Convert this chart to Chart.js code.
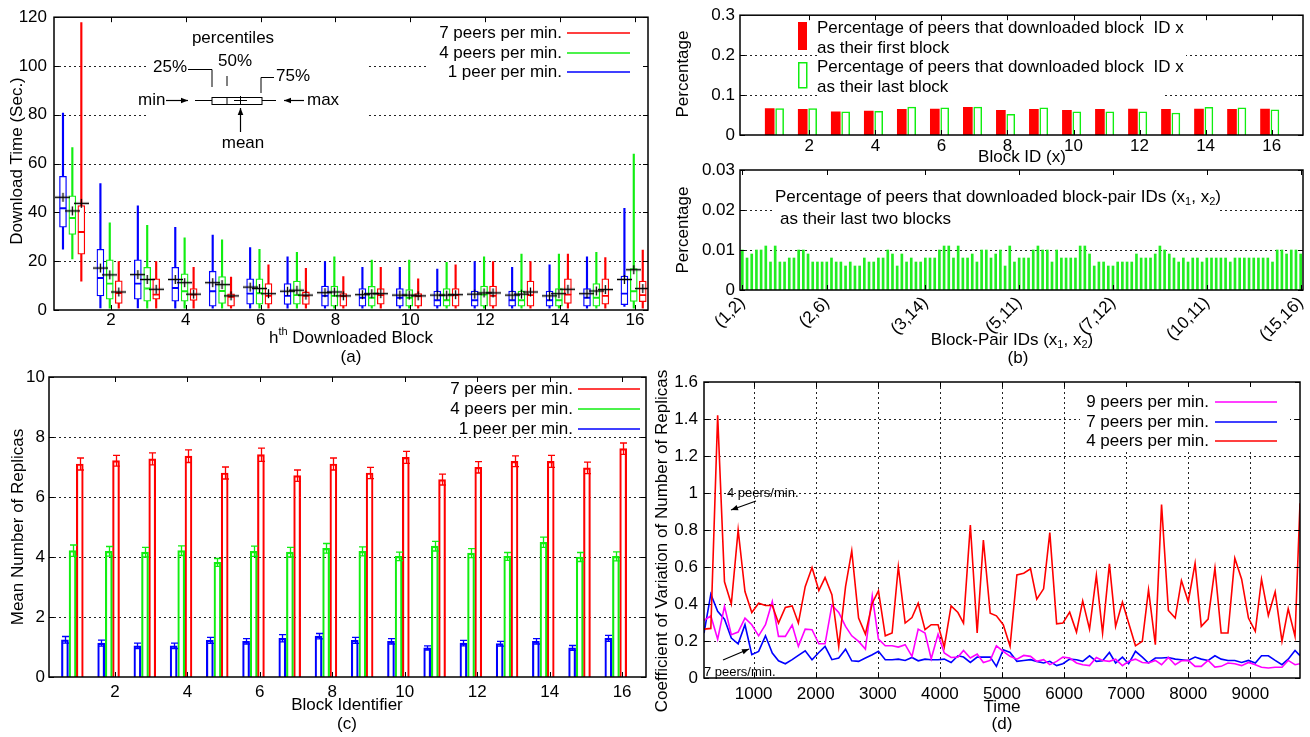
<!DOCTYPE html>
<html>
<head>
<meta charset="utf-8">
<title>Download and replica statistics</title>
<script src="https://cdn.jsdelivr.net/npm/chart.js"></script>
<style>
html, body { margin:0; padding:0; background:#fff; width:1310px; height:737px; overflow:hidden; position:relative; }
canvas { position:absolute; }
</style>
</head>
<body>
<canvas id="chartA"></canvas>
<canvas id="chartB1"></canvas>
<canvas id="chartB2"></canvas>
<canvas id="chartC"></canvas>
<canvas id="chartD"></canvas>
<script>
// ================= DATA =================
const blocks = [1,2,3,4,5,6,7,8,9,10,11,12,13,14,15,16];
const blockTicks = [2,4,6,8,10,12,14,16];

// (a) download time box plots
const dlTicks = [0,20,40,60,80,100,120];
const blueMin  = [24.9,0.9,0.9,0.7,0.7,0.7,0.7,0.7,0.7,0.7,0.7,0.7,0.7,0.7,0.7,1.5];
const blueQ1   = [33.9,5.8,4.4,3.6,1.6,2.4,2.3,1.6,1.6,1.6,1.6,1.6,1.6,1.6,1.6,2.2];
const blueMed  = [41.7,13.1,10.8,9.0,7.7,6.7,5.8,5.8,5.0,5.0,4.0,4.0,4.0,4.0,5.0,6.7];
const blueQ3   = [54.8,24.9,20.6,17.5,15.9,12.8,10.8,9.8,8.8,8.8,7.8,7.8,7.8,7.8,8.8,13.9];
const blueMax  = [80.7,51.8,42.7,33.9,30.7,25.6,21.8,19.8,17.5,17.5,16.8,19.8,17.5,18.5,21.8,41.7];
const blueMean = [46.2,17.2,14.5,12.5,11.2,9.4,7.7,7.1,6.3,6.1,6.1,6.5,6.1,5.8,6.7,12.5];

const greenMin  = [20.9,0.7,0.7,0.7,0.7,0.7,0.7,0.7,0.7,0.7,0.7,0.7,0.7,0.7,0.7,0.7];
const greenQ1   = [31.0,4.4,3.6,3.6,2.7,2.4,2.4,1.6,1.6,1.6,1.6,1.6,1.6,1.6,1.6,3.5];
const greenMed  = [37.7,10.8,8.8,7.7,7.8,6.9,6.1,5.8,5.0,5.0,4.0,6.3,4.0,4.0,5.0,7.7];
const greenQ3   = [46.8,20.6,17.5,14.8,13.7,12.8,11.9,9.8,9.7,8.4,8.8,9.8,7.8,8.8,10.8,17.0];
const greenMax  = [66.6,35.7,34.7,29.6,28.8,24.9,23.6,21.8,20.5,20.5,19.5,21.8,22.9,22.9,23.6,63.9];
const greenMean = [40.6,14.4,12.5,11.2,10.4,8.8,8.1,7.4,6.7,6.1,6.1,7.0,6.5,6.7,7.8,16.5];

const redMin  = [11.8,0.7,0.7,0.7,0.7,0.7,0.7,0.7,0.7,0.7,0.7,0.7,0.7,0.7,0.7,0.7];
const redQ1   = [22.9,2.7,4.4,3.9,1.6,2.4,2.3,1.6,2.4,1.6,1.6,1.6,1.6,2.7,2.4,3.4];
const redMed  = [32.0,7.0,6.3,6.3,5.4,5.8,5.8,5.7,6.1,5.7,6.1,5.8,6.1,6.3,5.8,6.1];
const redQ3   = [42.8,12.0,12.8,8.8,6.6,10.8,7.4,6.7,8.8,6.7,8.8,9.8,11.9,12.8,12.8,11.9];
const redMax  = [117.8,19.8,19.8,17.5,13.5,18.5,17.1,13.7,17.5,12.8,18.5,19.8,19.8,22.9,21.5,24.6];
const redMean = [43.7,7.4,8.5,6.5,5.8,6.7,6.1,5.8,6.7,5.8,6.3,7.0,7.4,8.5,8.4,8.8];

// (b) top: first / last block percentages
const pctTicks = [0,0.1,0.2,0.3];
const firstPct = [0.066,0.064,0.058,0.060,0.064,0.065,0.069,0.062,0.064,0.062,0.064,0.065,0.064,0.065,0.064,0.065];
const lastPct  = [0.066,0.066,0.058,0.059,0.070,0.068,0.070,0.052,0.068,0.058,0.058,0.058,0.055,0.069,0.068,0.063];

// (b) bottom: block-pair percentages
const pairLabels = [
"(1,2)","(1,3)","(1,4)","(1,5)","(1,6)","(1,7)","(1,8)","(1,9)","(1,10)","(1,11)","(1,12)","(1,13)","(1,14)","(1,15)","(1,16)",
"(2,3)","(2,4)","(2,5)","(2,6)","(2,7)","(2,8)","(2,9)","(2,10)","(2,11)","(2,12)","(2,13)","(2,14)","(2,15)","(2,16)",
"(3,4)","(3,5)","(3,6)","(3,7)","(3,8)","(3,9)","(3,10)","(3,11)","(3,12)","(3,13)","(3,14)","(3,15)","(3,16)",
"(4,5)","(4,6)","(4,7)","(4,8)","(4,9)","(4,10)","(4,11)","(4,12)","(4,13)","(4,14)","(4,15)","(4,16)",
"(5,6)","(5,7)","(5,8)","(5,9)","(5,10)","(5,11)","(5,12)","(5,13)","(5,14)","(5,15)","(5,16)",
"(6,7)","(6,8)","(6,9)","(6,10)","(6,11)","(6,12)","(6,13)","(6,14)","(6,15)","(6,16)",
"(7,8)","(7,9)","(7,10)","(7,11)","(7,12)","(7,13)","(7,14)","(7,15)","(7,16)",
"(8,9)","(8,10)","(8,11)","(8,12)","(8,13)","(8,14)","(8,15)","(8,16)",
"(9,10)","(9,11)","(9,12)","(9,13)","(9,14)","(9,15)","(9,16)",
"(10,11)","(10,12)","(10,13)","(10,14)","(10,15)","(10,16)",
"(11,12)","(11,13)","(11,14)","(11,15)","(11,16)",
"(12,13)","(12,14)","(12,15)","(12,16)",
"(13,14)","(13,15)","(13,16)",
"(14,15)","(14,16)",
"(15,16)"];
const pairTickLabels = ["(1,2)","(2,6)","(3,14)","(5,11)","(7,12)","(10,11)","(15,16)"];
const pairPctTicks = [0,0.01,0.02,0.03];
const pairPct = [
0.010,0.008,0.009,0.010,0.010,0.011,0.007,0.011,0.007,0.007,
0.008,0.008,0.010,0.010,0.009,0.007,0.007,0.007,0.007,0.008,
0.007,0.007,0.006,0.007,0.006,0.006,0.008,0.007,0.007,0.008,
0.008,0.010,0.009,0.006,0.009,0.007,0.008,0.007,0.007,0.008,
0.008,0.008,0.010,0.011,0.011,0.008,0.011,0.008,0.008,0.009,
0.007,0.010,0.010,0.008,0.009,0.010,0.006,0.011,0.007,0.008,
0.008,0.008,0.010,0.011,0.010,0.010,0.007,0.010,0.008,0.008,
0.008,0.008,0.011,0.011,0.009,0.006,0.007,0.007,0.006,0.006,
0.007,0.007,0.007,0.007,0.009,0.008,0.008,0.008,0.009,0.011,
0.010,0.009,0.008,0.007,0.008,0.007,0.008,0.008,0.007,0.008,
0.008,0.008,0.008,0.008,0.007,0.008,0.008,0.008,0.008,0.008,
0.008,0.008,0.008,0.007,0.010,0.010,0.009,0.010,0.010,0.009];

// (c) mean number of replicas
const replicaTicks = [0,2,4,6,8,10];
const replicas7 = [7.10,7.21,7.27,7.36,6.80,7.41,6.71,7.10,6.80,7.32,6.58,6.99,7.19,7.19,6.97,7.61];
const replicas4 = [4.21,4.19,4.16,4.21,3.82,4.19,4.16,4.29,4.19,4.02,4.36,4.13,4.02,4.49,4.00,4.02];
const replicas1 = [1.24,1.13,1.04,1.04,1.22,1.19,1.29,1.36,1.22,1.19,0.97,1.13,1.11,1.19,0.97,1.29];
const err7 = [0.20,0.18,0.20,0.21,0.20,0.22,0.19,0.20,0.19,0.20,0.18,0.19,0.18,0.20,0.19,0.19];
const err4 = [0.19,0.16,0.16,0.16,0.13,0.17,0.16,0.16,0.15,0.14,0.16,0.15,0.13,0.17,0.15,0.15];
const err1 = [0.11,0.10,0.09,0.09,0.10,0.09,0.12,0.09,0.10,0.09,0.07,0.09,0.08,0.09,0.08,0.10];

// (d) coefficient of variation over time
const timeTicks = [1000,2000,3000,4000,5000,6000,7000,8000,9000];
const cvTicks = [0,0.2,0.4,0.6,0.8,1,1.2,1.4,1.6];
const times = [200,310,420,530,640,750,860,970,1080,1190,1300,1400,1510,1620,1720,1830,1940,2050,2150,2260,
2370,2480,2580,2690,2800,2910,3010,3120,3230,3330,3440,3550,3650,3760,3860,3970,4070,4180,4290,4380,4490,4600,
4700,4810,4910,5020,5130,5240,5350,5460,5560,5670,5770,5880,5980,6090,6200,6300,6410,6520,6620,6730,
6830,6940,7040,7150,7260,7360,7470,7570,7680,7790,7890,8000,8110,8210,8320,8430,8530,8640,8750,8860,
8970,9080,9180,9290,9400,9510,9610,9720,9800];
const cv4 = [0.264,0.268,1.42,0.52,0.40,0.80,0.467,0.354,0.404,0.392,0.392,0.297,0.381,0.39,0.297,0.494,0.597,0.473,0.543,0.45,
0.171,0.494,0.687,0.324,0.237,0.404,0.471,0.228,0.243,0.602,0.297,0.327,0.404,0.261,0.288,0.288,0.167,0.39,0.354,0.297,0.827,0.243,
0.746,0.35,0.336,0.288,0.171,0.557,0.566,0.59,0.426,0.482,0.786,0.293,0.297,0.356,0.248,0.417,0.264,0.555,0.243,0.617,
0.279,0.41,0.297,0.174,0.198,0.476,0.18,0.938,0.365,0.324,0.527,0.413,0.62,0.279,0.318,0.593,0.243,0.243,0.647,0.534,
0.324,0.252,0.534,0.338,0.466,0.198,0.374,0.225,0.944];
const cv7 = [0.243,0.453,0.36,0.318,0.216,0.185,0.288,0.126,0.144,0.228,0.135,0.093,0.077,0.099,0.122,0.147,0.099,0.138,0.171,0.099,
0.108,0.156,0.093,0.09,0.108,0.126,0.144,0.099,0.099,0.102,0.095,0.111,0.093,0.102,0.099,0.099,0.102,0.084,0.12,0.113,0.084,0.113,
0.113,0.113,0.063,0.153,0.138,0.09,0.095,0.099,0.09,0.081,0.09,0.067,0.077,0.102,0.099,0.09,0.12,0.09,0.093,0.138,
0.081,0.113,0.077,0.144,0.113,0.081,0.108,0.108,0.111,0.102,0.099,0.095,0.113,0.102,0.095,0.12,0.102,0.095,0.095,0.084,
0.095,0.081,0.12,0.12,0.095,0.072,0.102,0.149,0.12];
const cv9 = [0.311,0.336,0.21,0.387,0.234,0.248,0.324,0.288,0.228,0.288,0.413,0.225,0.225,0.286,0.171,0.264,0.261,0.185,0.185,0.394,
0.354,0.279,0.228,0.198,0.156,0.444,0.21,0.174,0.174,0.167,0.18,0.117,0.264,0.243,0.104,0.237,0.135,0.111,0.113,0.149,0.108,0.129,
0.084,0.095,0.174,0.144,0.117,0.102,0.122,0.117,0.09,0.099,0.072,0.09,0.113,0.108,0.081,0.072,0.067,0.111,0.095,0.09,
0.102,0.067,0.09,0.102,0.084,0.081,0.095,0.072,0.111,0.072,0.093,0.095,0.063,0.063,0.095,0.059,0.063,0.081,0.077,0.067,
0.084,0.072,0.058,0.054,0.058,0.058,0.095,0.072,0.077];

// ================= STYLE =================
const FONT = "'Liberation Sans', Arial, Helvetica, sans-serif";
const RED = '#ff0000', GREEN = '#11ee11', BLUE = '#0000ff', MAGENTA = '#ff00ff';
Chart.defaults.font.family = FONT;
Chart.defaults.font.size = 17;
Chart.defaults.color = '#000';
Chart.defaults.animation = false;
Chart.defaults.events = [];

function txt(ctx, s, x, y, o) {
  o = o || {};
  ctx.save();
  ctx.font = (o.size || 17) + 'px ' + FONT;
  ctx.fillStyle = o.color || '#000';
  ctx.textAlign = o.align || 'left';
  ctx.textBaseline = 'middle';
  if (o.rot) { ctx.translate(x, y); ctx.rotate(o.rot); ctx.fillText(s, 0, 0); }
  else ctx.fillText(s, x, y);
  ctx.restore();
}
function runs(ctx, parts, x, y, size, align) {
  ctx.save();
  ctx.textBaseline = 'middle'; ctx.textAlign = 'left'; ctx.fillStyle = '#000';
  const fs = p => (p[1] ? Math.round(size * 0.65) : size) + 'px ' + FONT;
  let w = 0;
  parts.forEach(p => { ctx.font = fs(p); w += ctx.measureText(p[0]).width; });
  let cx = align === 'center' ? x - w / 2 : x;
  parts.forEach(p => {
    ctx.font = fs(p);
    const dy = p[1] === 'sup' ? -size * 0.38 : (p[1] === 'sub' ? size * 0.3 : 0);
    ctx.fillText(p[0], cx, y + dy);
    cx += ctx.measureText(p[0]).width;
  });
  ctx.restore();
}
function seg(ctx, pts, color, w) {
  ctx.save(); ctx.strokeStyle = color || '#000'; ctx.lineWidth = w || 1;
  ctx.beginPath(); ctx.moveTo(pts[0][0], pts[0][1]);
  for (let i = 1; i < pts.length; i++) ctx.lineTo(pts[i][0], pts[i][1]);
  ctx.stroke(); ctx.restore();
}
function arrow(ctx, x1, y1, x2, y2, head) {
  head = head || 7;
  seg(ctx, [[x1, y1], [x2, y2]], '#000', 1.2);
  const a = Math.atan2(y2 - y1, x2 - x1);
  ctx.save(); ctx.fillStyle = '#000'; ctx.beginPath();
  ctx.moveTo(x2, y2);
  ctx.lineTo(x2 - head * Math.cos(a) + head * 0.4 * Math.sin(a), y2 - head * Math.sin(a) - head * 0.4 * Math.cos(a));
  ctx.lineTo(x2 - head * Math.cos(a) - head * 0.4 * Math.sin(a), y2 - head * Math.sin(a) + head * 0.4 * Math.cos(a));
  ctx.closePath(); ctx.fill(); ctx.restore();
}
function legendRows(ctx, rows, textRight, l1, l2) {
  rows.forEach(r => {
    txt(ctx, r[0], textRight, r[2], {align: 'right'});
    seg(ctx, [[l1, r[2]], [l2, r[2]]], r[1], 1.5);
  });
}

function scaleCfg(opt) {
  const s = {
    type: opt.type || 'linear',
    offset: !!opt.offset,
    grid: {display: false, drawTicks: false},
    border: {display: false},
    ticks: Object.assign({autoSkip: false, maxRotation: 0, minRotation: 0, padding: 3, color: '#000', font: {size: 17}}, opt.tickOpts || {}),
    afterFit: opt.fit
  };
  if (opt.min !== undefined) s.min = opt.min;
  if (opt.max !== undefined) s.max = opt.max;
  if (opt.labels) s.labels = opt.labels;
  if (opt.values) {
    s.afterBuildTicks = sc => { sc.ticks = opt.values.map(v => ({value: v})); };
    s.ticks.callback = v => String(v);
  }
  return s;
}

function makeChart(cfg) {
  const [cx, cy, cw, ch] = cfg.canvas, [L, T, R, B] = cfg.area;
  const cv = document.getElementById(cfg.id);
  cv.width = cw; cv.height = ch; cv.style.left = cx + 'px'; cv.style.top = cy + 'px';
  const xs = scaleCfg(Object.assign({}, cfg.x, {fit: s => { s.height = cy + ch - B; }}));
  xs.position = 'bottom';
  const ys = scaleCfg(Object.assign({}, cfg.y, {fit: s => { s.width = L - cx; }}));
  ys.position = 'left';
  const deco = {
    id: 'deco',
    beforeDatasetsDraw(chart) {
      const ctx = chart.ctx, a = chart.chartArea, sx = chart.scales.x, sy = chart.scales.y;
      ctx.save();
      ctx.beginPath(); ctx.rect(a.left, a.top, a.right - a.left, a.bottom - a.top); ctx.clip();
      ctx.strokeStyle = '#222'; ctx.lineWidth = 1; ctx.setLineDash([2, 3]);
      ctx.beginPath();
      (cfg.gridY || []).forEach(v => { const p = Math.round(sy.getPixelForValue(v)) + 0.5; ctx.moveTo(a.left, p); ctx.lineTo(a.right, p); });
      (cfg.gridX || []).forEach(v => { const p = Math.round(sx.getPixelForValue(v)) + 0.5; ctx.moveTo(p, a.top); ctx.lineTo(p, a.bottom); });
      ctx.stroke();
      ctx.setLineDash([]);
      ctx.fillStyle = '#fff';
      (cfg.masks || []).forEach(m => ctx.fillRect(m[0] - cx, m[1] - cy, m[2], m[3]));
      ctx.restore();
    },
    afterDatasetsDraw(chart) {
      const ctx = chart.ctx, a = chart.chartArea, sx = chart.scales.x, sy = chart.scales.y;
      ctx.save();
      if (cfg.over) cfg.over(ctx, chart);
      ctx.strokeStyle = '#000'; ctx.lineWidth = 1;
      const tl = 5;
      ctx.beginPath();
      (cfg.tickX || []).forEach(v => { const p = Math.round(sx.getPixelForValue(v)) + 0.5; ctx.moveTo(p, a.bottom); ctx.lineTo(p, a.bottom - tl); ctx.moveTo(p, a.top); ctx.lineTo(p, a.top + tl); });
      (cfg.tickY || []).forEach(v => { const p = Math.round(sy.getPixelForValue(v)) + 0.5; ctx.moveTo(a.left, p); ctx.lineTo(a.left + tl, p); ctx.moveTo(a.right, p); ctx.lineTo(a.right - tl, p); });
      ctx.stroke();
      ctx.lineWidth = 1.5;
      ctx.strokeRect(a.left, a.top, a.right - a.left, a.bottom - a.top);
      ctx.translate(-cx, -cy);
      if (cfg.draw) cfg.draw(ctx, chart);
      ctx.restore();
    }
  };
  return new Chart(cv, {
    type: cfg.type,
    data: cfg.data,
    options: {
      responsive: false, animation: false,
      layout: {padding: {left: 0, top: T - cy, right: cx + cw - R, bottom: 0}},
      scales: {x: xs, y: ys},
      plugins: {legend: {display: false}, tooltip: {enabled: false}}
    },
    plugins: [deco]
  });
}

// ================= (a) =================
const plusImg = document.createElement('canvas');
plusImg.width = 15; plusImg.height = 11;
(function () {
  const p = plusImg.getContext('2d');
  p.strokeStyle = '#000'; p.lineWidth = 1.3; p.beginPath();
  p.moveTo(0, 5.5); p.lineTo(15, 5.5); p.moveTo(7.5, 1); p.lineTo(7.5, 10); p.stroke();
})();
function boxSets(name, color, off, mn, q1, md, q3, mx, mean) {
  const xs = blocks.map(b => b + off);
  return [
    {type: 'bar', label: name + ' range', data: xs.map((x, i) => ({x: x, y: [mn[i], mx[i]]})),
     backgroundColor: color, borderWidth: 0, barThickness: 1.5, grouped: false, order: 3},
    {type: 'bar', label: name + ' lower quartile', data: xs.map((x, i) => ({x: x, y: [q1[i], md[i]]})),
     backgroundColor: '#fff', borderColor: color, borderWidth: 1.3, borderSkipped: false, barThickness: 7, grouped: false, order: 2},
    {type: 'bar', label: name + ' upper quartile', data: xs.map((x, i) => ({x: x, y: [md[i], q3[i]]})),
     backgroundColor: '#fff', borderColor: color, borderWidth: 1.3, borderSkipped: false, barThickness: 7, grouped: false, order: 2},
    {type: 'scatter', label: name + ' mean', data: xs.map((x, i) => ({x: x, y: mean[i]})),
     pointStyle: plusImg, pointRadius: 6, order: 0}
  ];
}
makeChart({
  id: 'chartA', canvas: [0, 0, 660, 372], area: [54, 13, 648, 310], type: 'bar',
  data: {datasets: [].concat(
    boxSets('1 peer per min.', BLUE, -0.28, blueMin, blueQ1, blueMed, blueQ3, blueMax, blueMean),
    boxSets('4 peers per min.', GREEN, -0.03, greenMin, greenQ1, greenMed, greenQ3, greenMax, greenMean),
    boxSets('7 peers per min.', RED, 0.21, redMin, redQ1, redMed, redQ3, redMax, redMean))},
  x: {min: 0.48, max: 16.35, values: blockTicks, tickOpts: {padding: 0}},
  y: {min: 0, max: 120, values: dlTicks, tickOpts: {padding: 7}},
  gridY: [20, 40, 60, 80, 100], tickX: blockTicks, tickY: dlTicks,
  masks: [[146, 14, 222, 136], [428, 14, 219, 71]],
  draw(ctx) {
    txt(ctx, 'Download Time (Sec.)', 17, 161, {rot: -Math.PI / 2, align: 'center'});
    runs(ctx, [['h', ''], ['th', 'sup'], [' Downloaded Block', '']], 351, 338, 17, 'center');
    txt(ctx, '(a)', 351, 357, {align: 'center'});
    legendRows(ctx, [['7 peers per min.', RED, 33], ['4 peers per min.', GREEN, 53], ['1 peer per min.', BLUE, 72]], 562, 567, 630);
    // key explaining the box plot
    txt(ctx, 'percentiles', 233, 38, {align: 'center'});
    txt(ctx, '25%', 153, 67);
    seg(ctx, [[188, 69.5], [212, 69.5], [212, 87]]);
    txt(ctx, '50%', 235, 61, {align: 'center'});
    seg(ctx, [[227, 76], [227, 86]]);
    txt(ctx, '75%', 276, 76);
    seg(ctx, [[274, 77.5], [261, 77.5], [261, 93]]);
    seg(ctx, [[195, 100.5], [212, 100.5]]);
    seg(ctx, [[262, 100.5], [276, 100.5]]);
    ctx.save(); ctx.strokeStyle = '#000'; ctx.lineWidth = 1; ctx.strokeRect(212, 97.5, 50, 7); ctx.restore();
    seg(ctx, [[227, 97.5], [227, 104.5]]);
    seg(ctx, [[234, 100.5], [247, 100.5]]);
    seg(ctx, [[240.5, 96], [240.5, 105]]);
    txt(ctx, 'min', 138, 100);
    arrow(ctx, 166, 100.5, 188, 100.5, 7);
    txt(ctx, 'max', 307, 100);
    arrow(ctx, 304, 100.5, 284, 100.5, 7);
    txt(ctx, 'mean', 243, 143, {align: 'center'});
    arrow(ctx, 240.5, 132, 240.5, 108, 7);
  }
});

// ================= (b) top =================
makeChart({
  id: 'chartB1', canvas: [655, 0, 700, 178], area: [740, 13, 1303, 135], type: 'bar',
  data: {datasets: [
    {label: 'first block', data: blocks.map((b, i) => ({x: b - 0.2, y: firstPct[i]})),
     backgroundColor: RED, borderWidth: 0, barThickness: 9, grouped: false},
    {label: 'last block', data: blocks.map((b, i) => ({x: b + 0.1, y: lastPct[i]})),
     backgroundColor: '#fff', borderColor: GREEN, borderWidth: 1.5, barThickness: 8, grouped: false}
  ]},
  x: {min: -0.1, max: 16.95, values: blockTicks, tickOpts: {padding: 1}},
  y: {min: 0, max: 0.3, values: pctTicks, tickOpts: {padding: 5}},
  gridY: [0.1, 0.2], tickX: blockTicks, tickY: pctTicks,
  masks: [[817, 14, 369, 58], [817, 72, 346, 30]],
  draw(ctx) {
    txt(ctx, 'Percentage', 683, 74, {rot: -Math.PI / 2, align: 'center'});
    txt(ctx, 'Block ID (x)', 1022, 157, {align: 'center'});
    ctx.save();
    ctx.fillStyle = RED; ctx.fillRect(798, 22, 9, 28);
    ctx.strokeStyle = GREEN; ctx.lineWidth = 1.5; ctx.strokeRect(798.75, 62.75, 8, 25);
    ctx.restore();
    txt(ctx, 'Percentage of peers that downloaded block  ID x', 817, 28);
    txt(ctx, 'as their first block', 817, 48);
    txt(ctx, 'Percentage of peers that downloaded block  ID x', 817, 67);
    txt(ctx, 'as their last block', 817, 87);
  }
});

// ================= (b) bottom =================
const pairTickIdx = pairTickLabels.map(l => pairLabels.indexOf(l));
makeChart({
  id: 'chartB2', canvas: [655, 150, 700, 222], area: [740, 170, 1303, 290], type: 'bar',
  data: {labels: pairLabels, datasets: [
    {label: 'last two blocks', data: pairPct, backgroundColor: '#22ee22', borderWidth: 0, barThickness: 2}
  ]},
  x: {type: 'category', labels: pairLabels, offset: true,
      tickOpts: {maxRotation: 45, minRotation: 45, padding: 3,
                 callback: (v, i) => (pairTickLabels.indexOf(pairLabels[i]) >= 0 ? pairLabels[i] : '')}},
  y: {min: 0, max: 0.03, values: pairPctTicks, tickOpts: {padding: 5}},
  gridY: [0.01, 0.02], tickX: pairTickIdx, tickY: pairPctTicks,
  masks: [[773, 185, 447, 40]],
  draw(ctx) {
    txt(ctx, 'Percentage', 683, 230, {rot: -Math.PI / 2, align: 'center'});
    runs(ctx, [['Percentage of peers that downloaded block-pair IDs (x', ''], ['1', 'sub'], [', x', ''], ['2', 'sub'], [')', '']], 775, 197, 17, 'left');
    txt(ctx, 'as their last two blocks', 780, 219);
    runs(ctx, [['Block-Pair IDs (x', ''], ['1', 'sub'], [', x', ''], ['2', 'sub'], [')', '']], 1012, 340, 17, 'center');
    txt(ctx, '(b)', 1018, 358, {align: 'center'});
  }
});

// ================= (c) =================
const OFF_C1 = -0.38, OFF_C4 = -0.17, OFF_C7 = 0.03;
function replicaSet(name, color, off, vals) {
  return {label: name, data: blocks.map((b, i) => ({x: b + off, y: vals[i]})),
          backgroundColor: 'rgba(255,255,255,0)', borderColor: color, borderWidth: 1.5,
          barThickness: 7, grouped: false};
}
makeChart({
  id: 'chartC', canvas: [0, 355, 660, 382], area: [49, 377, 646, 677], type: 'bar',
  data: {datasets: [
    replicaSet('1 peer per min.', BLUE, OFF_C1, replicas1),
    replicaSet('4 peers per min.', GREEN, OFF_C4, replicas4),
    replicaSet('7 peers per min.', RED, OFF_C7, replicas7)
  ]},
  x: {min: 0.18, max: 16.66, values: blockTicks, tickOpts: {padding: 5}},
  y: {min: 0, max: 10, values: replicaTicks, tickOpts: {padding: 4}},
  gridY: [2, 4, 6, 8], tickX: blockTicks, tickY: replicaTicks,
  over(ctx, chart) {
    const sx = chart.scales.x, sy = chart.scales.y;
    [[replicas1, err1, BLUE, OFF_C1], [replicas4, err4, GREEN, OFF_C4], [replicas7, err7, RED, OFF_C7]].forEach(s => {
      ctx.save(); ctx.strokeStyle = s[2]; ctx.lineWidth = 1.3; ctx.beginPath();
      s[0].forEach((v, i) => {
        const px = Math.round(sx.getPixelForValue(blocks[i] + s[3])) + 0.5;
        const y1 = sy.getPixelForValue(v - s[1][i]), y2 = sy.getPixelForValue(v + s[1][i]);
        ctx.moveTo(px, y1); ctx.lineTo(px, y2);
        ctx.moveTo(px - 3.5, y1); ctx.lineTo(px + 3.5, y1);
        ctx.moveTo(px - 3.5, y2); ctx.lineTo(px + 3.5, y2);
      });
      ctx.stroke(); ctx.restore();
    });
  },
  draw(ctx) {
    txt(ctx, 'Mean Number of Replicas', 18, 527, {rot: -Math.PI / 2, align: 'center'});
    txt(ctx, 'Block Identifier', 347, 705, {align: 'center'});
    txt(ctx, '(c)', 347, 724, {align: 'center'});
    legendRows(ctx, [['7 peers per min.', RED, 389], ['4 peers per min.', GREEN, 409], ['1 peer per min.', BLUE, 429]], 573, 578, 640);
  }
});

// ================= (d) =================
function cvSet(name, color, vals) {
  return {label: name, data: times.map((t, i) => ({x: t, y: vals[i]})), borderColor: color,
          borderWidth: 1.6, pointRadius: 0, tension: 0, fill: false};
}
makeChart({
  id: 'chartD', canvas: [650, 355, 700, 382], area: [704, 382, 1300, 678], type: 'line',
  data: {datasets: [
    cvSet('4 peers per min.', RED, cv4),
    cvSet('9 peers per min.', MAGENTA, cv9),
    cvSet('7 peers per min.', BLUE, cv7)
  ]},
  x: {min: 200, max: 9800, values: timeTicks, tickOpts: {padding: 6}},
  y: {min: 0, max: 1.6, values: cvTicks, tickOpts: {padding: 6}},
  gridX: timeTicks, gridY: cvTicks.filter(v => v > 0 && v < 1.6), tickX: timeTicks, tickY: cvTicks,
  masks: [[1080, 383, 210, 69]],
  draw(ctx) {
    txt(ctx, 'Coefficient of Variation of Number of Replicas', 662, 541, {rot: -Math.PI / 2, align: 'center'});
    txt(ctx, 'Time', 1002, 707, {align: 'center'});
    txt(ctx, '(d)', 1002, 724, {align: 'center'});
    legendRows(ctx, [['9 peers per min.', MAGENTA, 402], ['7 peers per min.', BLUE, 422], ['4 peers per min.', RED, 441]], 1209, 1215, 1277);
    txt(ctx, '4 peers/min.', 727, 493, {size: 13});
    arrow(ctx, 756, 501, 731, 510, 7);
    txt(ctx, '7 peers/min.', 704, 672, {size: 13});
    arrow(ctx, 723, 660, 749, 649, 7);
  }
});
</script>
</body>
</html>
